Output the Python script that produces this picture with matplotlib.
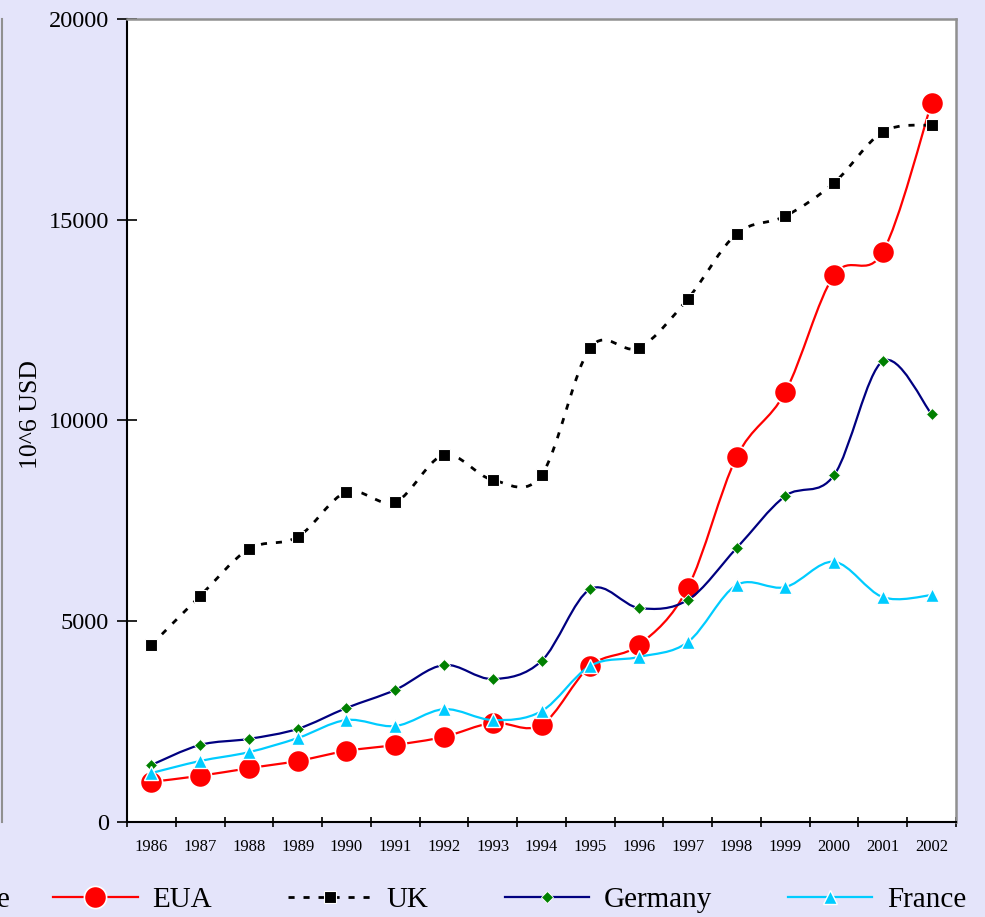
import matplotlib
matplotlib.use("Agg")
import matplotlib.pyplot as plt
from matplotlib.path import Path
from matplotlib.patches import PathPatch
from matplotlib.lines import Line2D
import numpy as np

years = ["1986", "1987", "1988", "1989", "1990", "1991", "1992", "1993", "1994",
         "1995", "1996", "1997", "1998", "1999", "2000", "2001", "2002"]
eua = [1000, 1150, 1340, 1520, 1770, 1920, 2120, 2470, 2420,
       3890, 4410, 5830, 9090, 10710, 13620, 14200, 17910]
uk = [4410, 5630, 6800, 7100, 8220, 7970, 9140, 8520, 8640,
      11810, 11810, 13030, 14650, 15090, 15920, 17190, 17360]
germany = [1420, 1920, 2070, 2320, 2840, 3290, 3910, 3560, 4010,
           5800, 5330, 5530, 6820, 8120, 8640, 11480, 10160]
france = [1220, 1520, 1740, 2090, 2540, 2390, 2810, 2540, 2760,
          3890, 4110, 4480, 5900, 5850, 6480, 5600, 5650]
yticks = [0, 5000, 10000, 15000, 20000]

BG = "#e4e4fa"
plt.rcParams["font.family"] = ["Liberation Serif", "DejaVu Serif"]

fig = plt.figure(figsize=(9.85, 9.17), dpi=100, facecolor=BG)
ax = fig.add_axes([127/985, 1-822/917, (956-127)/985, (822-19)/917])
ax.set_facecolor("white")


def smooth_path(xs, ys):
    xs = np.asarray(xs, float); ys = np.asarray(ys, float)
    n = len(xs)
    verts = [(xs[0], ys[0])]
    codes = [Path.MOVETO]
    for i in range(n - 1):
        p0 = np.array([xs[max(i-1, 0)], ys[max(i-1, 0)]])
        p1 = np.array([xs[i], ys[i]])
        p2 = np.array([xs[i+1], ys[i+1]])
        p3 = np.array([xs[min(i+2, n-1)], ys[min(i+2, n-1)]])
        c1 = p1 + (p2 - p0) / 6.0
        c2 = p2 - (p3 - p1) / 6.0
        verts += [tuple(c1), tuple(c2), tuple(p2)]
        codes += [Path.CURVE4] * 3
    return Path(verts, codes)


x = np.arange(len(years))
series = [
    ("EUA", eua, dict(color="#ff0000", ls="-", lw=1.6),
     dict(marker="o", ms=16, mfc="#ff0000", mec="white", mew=1.2)),
    ("UK", uk, dict(color="black", ls=(0, (2.2, 3.2)), lw=2.0),
     dict(marker="s", ms=9, mfc="black", mec="white", mew=0.8)),
    ("Germany", germany, dict(color="#000080", ls="-", lw=1.6),
     dict(marker="D", ms=6.5, mfc="#008000", mec="white", mew=0.6)),
    ("France", france, dict(color="#00ccff", ls="-", lw=1.6),
     dict(marker="^", ms=10, mfc="#00ccff", mec="white", mew=1.0)),
]

handles = []
for i, (name, vals, lst, mk) in enumerate(series):
    patch = PathPatch(smooth_path(x, vals), fill=False, edgecolor=lst["color"],
                      lw=lst["lw"], linestyle=lst["ls"], zorder=2 + 2*i)
    ax.add_patch(patch)
    ax.plot(x, vals, ls="none", zorder=3 + 2*i, **mk)
    handles.append(Line2D([0], [0], color=lst["color"], ls=lst["ls"], lw=lst["lw"], **mk))

ax.set_xlim(-0.5, len(years) - 0.5)
ax.set_ylim(0, 20000)
ax.set_yticks(yticks)
ax.set_yticklabels([str(v) for v in yticks], fontsize=17.5)
ax.set_xticks(x)
ax.set_xticklabels(years, fontsize=12)
ax.set_xticks(np.arange(-0.5, len(years)), minor=True)
ax.tick_params(axis="x", which="major", length=0, pad=12)
ax.tick_params(axis="x", which="minor", length=7, direction="inout", width=1.2)
ax.tick_params(axis="y", which="major", length=14, direction="inout", width=1.2, pad=6)

for s in ["left", "bottom"]:
    ax.spines[s].set_color("black")
    ax.spines[s].set_linewidth(1.5)
for s in ["top", "right"]:
    ax.spines[s].set_color("#909090")
    ax.spines[s].set_linewidth(1.8)

ax.set_ylabel("10^6 USD", fontsize=18.5)
ax.yaxis.set_label_coords(-0.103, 0.507)

leg = fig.legend(handles, [s[0] for s in series], loc="center left",
                 bbox_to_anchor=(53/985, 1-900/917), ncol=4, frameon=False,
                 fontsize=21, handlelength=2.9, handletextpad=0.5,
                 columnspacing=2.6, borderpad=0, borderaxespad=0)

# partially visible neighbouring chart at the left edge
fig.add_artist(Line2D([2/985, 2/985], [1-19/917, 1-822/917], color="#909090",
                      lw=1.5, transform=fig.transFigure))
fig.text(10/985, 1-900/917, "e", fontsize=21, ha="right", va="center")

fig.savefig("out.png", dpi=100, facecolor=BG)
